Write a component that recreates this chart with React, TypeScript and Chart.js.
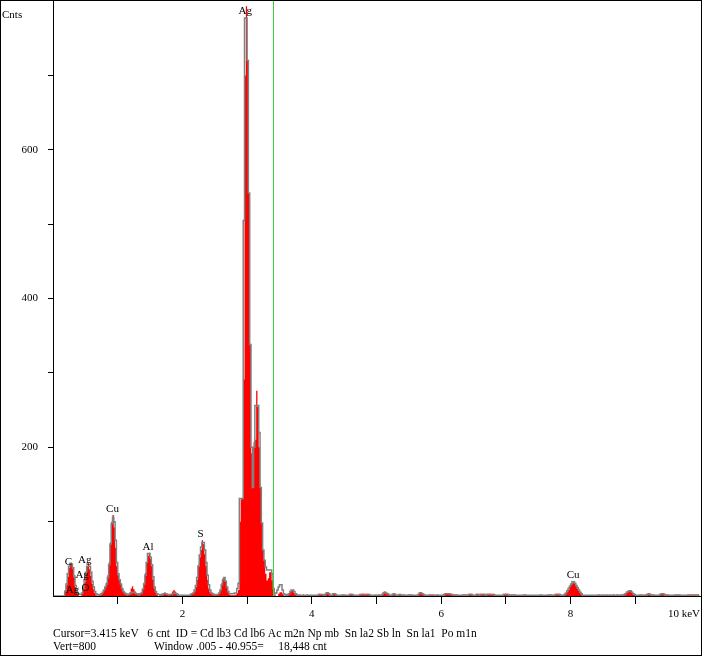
import React, { useEffect, useRef } from 'react';
import { Chart, registerables } from 'chart.js';

Chart.register(...registerables);

// ---- Data (channel width 0.02 keV, 0 .. 10 keV) ----
const channelWidthKeV = 0.02;

const redCounts: number[] = [
  0, 0, 0, 0, 0, 0, 0, 0, 0, 8, 14, 26, 38, 43, 44, 37, 25, 12, 5, 2, 0, 0, 3, 8, 18,
  30, 40, 44, 36, 27, 16, 9, 4, 1, 0, 0, 1, 2, 5, 8, 12, 18, 28, 45, 72, 100, 109, 92, 65, 40,
  28, 22, 16, 10, 6, 4, 2, 1, 3, 5, 10, 13, 9, 6, 3, 2, 1, 3, 5, 10, 18, 31, 45, 54, 58,
  50, 40, 22, 10, 5, 2, 0, 1, 0, 2, 4, 5, 3, 2, 1, 2, 3, 6, 8, 6, 3, 1, 0, 0, 0,
  0, 0, 0, 0, 0, 1, 2, 3, 4, 6, 12, 22, 42, 52, 62, 75, 70, 56, 40, 22, 10, 5, 3, 2, 1,
  1, 1, 2, 4, 8, 17, 24, 25, 20, 12, 5, 2, 1, 1, 1, 1, 2, 4, 8, 100, 130, 131, 291, 700, 793,
  720, 542, 338, 192, 150, 207, 210, 276, 254, 200, 146, 98, 62, 48, 30, 21, 24, 32, 32, 21, 0, 2, 0, 0, 3,
  5, 5, 3, 1, 0, 0, 1, 3, 6, 8, 7, 4, 2, 1, 0, 2, 0, 0, 2, 0, 0, 2, 0, 0, 0,
  0, 0, 0, 0, 1, 3, 3, 2, 2, 0, 3, 5, 5, 4, 0, 0, 4, 4, 3, 0, 0, 0, 0, 2, 2,
  2, 0, 0, 0, 3, 3, 2, 0, 0, 0, 0, 0, 2, 3, 3, 3, 2, 3, 3, 2, 0, 0, 0, 0, 2,
  0, 2, 2, 0, 2, 5, 6, 4, 4, 3, 0, 0, 3, 4, 3, 0, 0, 2, 2, 0, 2, 2, 0, 0, 2,
  2, 2, 2, 0, 0, 0, 0, 3, 5, 5, 3, 2, 2, 0, 0, 2, 2, 2, 2, 2, 0, 2, 2, 0, 0,
  0, 2, 3, 4, 4, 4, 3, 3, 2, 2, 2, 2, 2, 0, 0, 0, 2, 2, 2, 2, 0, 3, 3, 3, 2,
  0, 0, 3, 3, 0, 3, 3, 3, 3, 0, 3, 3, 3, 3, 2, 3, 2, 0, 0, 0, 0, 0, 0, 3, 3,
  3, 3, 2, 2, 2, 2, 2, 2, 0, 0, 0, 0, 0, 2, 2, 2, 0, 0, 0, 0, 0, 0, 0, 0, 0,
  0, 2, 2, 0, 0, 0, 0, 2, 2, 2, 2, 0, 2, 3, 3, 3, 3, 2, 0, 2, 3, 4, 6, 8, 12,
  15, 17, 18, 16, 13, 10, 7, 4, 2, 0, 0, 0, 0, 0, 0, 0, 0, 0, 0, 0, 0, 2, 2, 0, 2,
  0, 2, 0, 2, 0, 2, 0, 2, 2, 0, 2, 2, 0, 2, 2, 2, 2, 3, 5, 6, 7, 7, 5, 3, 2,
  0, 0, 0, 2, 2, 2, 0, 2, 2, 3, 4, 3, 2, 2, 2, 0, 0, 0, 2, 3, 4, 4, 3, 2, 2,
  2, 0, 0, 0, 0, 2, 2, 2, 2, 2, 0, 0, 0, 0, 0, 2, 2, 2, 2, 2, 2, 2, 2, 2, 2,
];

const grayCounts: number[] = [
  0, 0, 0, 0, 0, 0, 0, 0, 0, 6, 16, 30, 40, 44, 43, 38, 27, 14, 6, 3, 2, 2, 4, 10, 22,
  32, 40, 40, 40, 32, 20, 12, 6, 3, 2, 1, 2, 3, 5, 8, 12, 16, 25, 42, 70, 97, 106, 100, 75, 45,
  30, 22, 16, 10, 6, 4, 3, 2, 2, 3, 4, 5, 5, 4, 3, 3, 2, 3, 4, 9, 16, 28, 45, 57, 57,
  52, 42, 26, 12, 6, 3, 2, 2, 1, 2, 3, 3, 3, 2, 2, 2, 2, 3, 4, 4, 3, 2, 1, 1, 1,
  1, 1, 1, 1, 1, 1, 2, 3, 4, 8, 14, 25, 40, 55, 66, 72, 72, 62, 45, 28, 15, 8, 4, 3, 2,
  2, 2, 2, 4, 8, 15, 22, 25, 20, 12, 6, 3, 3, 3, 3, 4, 4, 10, 17, 131, 131, 131, 505, 777, 777,
  720, 542, 338, 200, 146, 200, 256, 256, 256, 220, 146, 98, 62, 48, 39, 35, 35, 35, 35, 30, 10, 3, 4, 8, 12,
  15, 15, 8, 3, 2, 1, 2, 3, 6, 8, 8, 6, 3, 2, 1, 1, 1, 1, 1, 1, 1, 1, 1, 1, 1,
  1, 1, 1, 1, 1, 2, 2, 2, 2, 1, 2, 4, 4, 3, 1, 1, 3, 3, 2, 1, 1, 1, 1, 1, 1,
  1, 1, 1, 1, 2, 2, 2, 1, 1, 1, 1, 1, 2, 2, 2, 2, 2, 2, 2, 2, 1, 1, 1, 1, 1,
  1, 1, 1, 1, 2, 4, 5, 4, 3, 2, 1, 1, 2, 3, 2, 1, 1, 2, 2, 1, 1, 1, 1, 1, 1,
  1, 1, 1, 1, 1, 1, 1, 2, 4, 4, 3, 2, 1, 1, 1, 1, 1, 1, 1, 1, 1, 1, 1, 1, 1,
  1, 1, 2, 3, 3, 3, 3, 2, 2, 1, 1, 1, 1, 1, 1, 1, 1, 1, 1, 1, 1, 2, 2, 2, 1,
  1, 1, 2, 2, 1, 2, 2, 2, 2, 1, 2, 2, 2, 2, 2, 2, 1, 1, 1, 1, 1, 1, 1, 2, 2,
  2, 2, 1, 1, 1, 1, 1, 1, 1, 1, 1, 1, 1, 1, 1, 1, 1, 1, 1, 1, 1, 1, 1, 1, 1,
  1, 1, 1, 1, 1, 1, 1, 1, 1, 1, 1, 1, 1, 2, 2, 2, 2, 1, 1, 1, 2, 4, 7, 10, 13,
  16, 19, 19, 17, 14, 11, 8, 5, 3, 1, 1, 1, 1, 1, 1, 1, 1, 1, 1, 1, 1, 1, 1, 1, 1,
  1, 1, 1, 1, 1, 1, 1, 1, 1, 1, 1, 1, 1, 1, 1, 1, 2, 3, 5, 6, 7, 7, 5, 3, 2,
  1, 1, 1, 1, 1, 1, 1, 1, 1, 2, 3, 2, 1, 1, 1, 1, 1, 1, 1, 2, 3, 3, 2, 1, 1,
  1, 1, 1, 1, 1, 1, 1, 1, 1, 1, 1, 1, 1, 1, 1, 1, 1, 1, 1, 1, 1, 1, 1, 1, 1,
];

const xMinKeV = 0;
const xMaxKeV = 10;
const yMaxCounts = 800;
const xLabelledTicks = [2, 4, 6, 8];
const xEndLabel = '10 keV';
const yLabelledTicks = [200, 400, 600];
const yAxisTitle = 'Cnts';

const peakLabels = ['C', 'Ag', 'Ag', 'Ag', 'O', 'Cu', 'Al', 'S', 'Ag', 'Cu'];
const peakLabelKeV = [0.24, 0.49, 0.45, 0.3, 0.5, 0.92, 1.47, 2.28, 2.97, 8.04];
const peakLabelCounts = [42, 44, 24, 4, 7, 113, 62, 80, 783, 24];

const cursorKeV = 3.415;
const footerLine1 = 'Cursor=3.415 keV   6 cnt  ID = Cd lb3 Cd lb6 Ac m2n Np mb  Sn la2 Sb ln  Sn la1  Po m1n';
const footerVert = 'Vert=800';
const footerWindow = 'Window .005 - 40.955=     18,448 cnt';

const FONT = '"Liberation Serif", "Times New Roman", serif';

function toPoints(counts: number[]) {
  return counts.map((c, i) => ({ x: (i + 0.5) * channelWidthKeV, y: c }));
}

const overlayPlugin = {
  id: 'edsOverlay',
  afterDatasetsDraw(chart: any) {
    const { ctx, chartArea, scales } = chart;
    const x = scales.x;
    ctx.save();
    const cx = Math.floor(x.getPixelForValue(cursorKeV)) + 0.5;
    ctx.strokeStyle = '#33d633';
    ctx.lineWidth = 1;
    ctx.beginPath();
    ctx.moveTo(cx, 0);
    ctx.lineTo(cx, chartArea.bottom);
    ctx.stroke();
    ctx.restore();
  },
  afterDraw(chart: any) {
    const { ctx, chartArea, scales, width, height } = chart;
    const x = scales.x;
    const y = scales.y;
    ctx.save();
    ctx.fillStyle = '#000';
    ctx.font = `11px ${FONT}`;
    // peak labels
    ctx.textAlign = 'center';
    ctx.textBaseline = 'alphabetic';
    peakLabels.forEach((t, i) => {
      ctx.fillText(t, x.getPixelForValue(peakLabelKeV[i]), y.getPixelForValue(peakLabelCounts[i]));
    });
    // end label of x axis
    ctx.textAlign = 'right';
    ctx.textBaseline = 'middle';
    ctx.fillText(xEndLabel, x.getPixelForValue(xMaxKeV), chartArea.bottom + 18.6);
    // axis title
    ctx.textAlign = 'left';
    ctx.textBaseline = 'alphabetic';
    ctx.fillText(yAxisTitle, 2, 18);
    // footer
    ctx.font = `11.5px ${FONT}`;
    ctx.fillText(footerLine1, chartArea.left, height - 19);
    ctx.fillText(footerVert, chartArea.left, height - 6);
    ctx.fillText(footerWindow, 154, height - 6);
    // outer frame
    ctx.strokeStyle = '#000';
    ctx.lineWidth = 1;
    ctx.strokeRect(0.5, 0.5, width - 1, height - 1);
    ctx.restore();
  },
};

export default function App() {
  const canvasRef = useRef<HTMLCanvasElement | null>(null);

  useEffect(() => {
    const canvas = canvasRef.current;
    if (!canvas) return;
    const chart = new Chart(canvas, {
      type: 'line',
      data: {
        datasets: [
          {
            label: 'Reference',
            data: toPoints(grayCounts),
            stepped: 'middle',
            borderColor: '#808080',
            borderWidth: 1.5,
            pointRadius: 0,
            fill: false,
          },
          {
            label: 'Spectrum',
            data: toPoints(redCounts),
            stepped: 'middle',
            borderColor: '#ff0000',
            backgroundColor: '#ff0000',
            borderWidth: 0,
            pointRadius: 0,
            fill: 'origin',
          },
        ],
      },
      options: {
        animation: false,
        responsive: false,
        devicePixelRatio: 1,
        layout: { autoPadding: false, padding: { left: 0, right: 2, top: 1, bottom: 0 } },
        plugins: { legend: { display: false }, tooltip: { enabled: false } },
        events: [],
        scales: {
          x: {
            type: 'linear',
            min: xMinKeV,
            max: xMaxKeV,
            z: 1,
            ticks: {
              stepSize: 1,
              autoSkip: false,
              maxRotation: 0,
              padding: 4,
              color: '#000',
              font: { family: FONT, size: 11 },
              callback: (v: any) => {
                if (v === xMinKeV || v === xMaxKeV) return null;
                return xLabelledTicks.includes(v) ? String(v) : '';
              },
            },
            grid: { drawOnChartArea: false, drawTicks: true, tickLength: 8, color: '#000', lineWidth: 1 },
            border: { display: true, color: '#000', width: 1 },
            afterFit: (s: any) => {
              s.height = 60;
              s.paddingLeft = 0;
              s.paddingRight = 0;
            },
          },
          y: {
            type: 'linear',
            min: 0,
            max: yMaxCounts,
            z: 1,
            ticks: {
              stepSize: 100,
              autoSkip: false,
              padding: 10,
              color: '#000',
              font: { family: FONT, size: 11 },
              callback: (v: any) => {
                if (v === 0 || v === yMaxCounts) return null;
                return yLabelledTicks.includes(v) ? String(v) : '';
              },
            },
            grid: { drawOnChartArea: false, drawTicks: true, tickLength: 5, color: '#000', lineWidth: 1 },
            border: { display: true, color: '#000', width: 1 },
            afterFit: (s: any) => {
              s.width = 53;
              s.paddingTop = 0;
              s.paddingBottom = 0;
            },
          },
        },
      },
      plugins: [overlayPlugin],
    } as any);
    return () => chart.destroy();
  }, []);

  return (
    <div style={{ position: 'absolute', left: 0, top: 0, width: 702, height: 656, background: '#fff' }}>
      <canvas ref={canvasRef} width={702} height={656} style={{ display: 'block', width: 702, height: 656 }} />
    </div>
  );
}
